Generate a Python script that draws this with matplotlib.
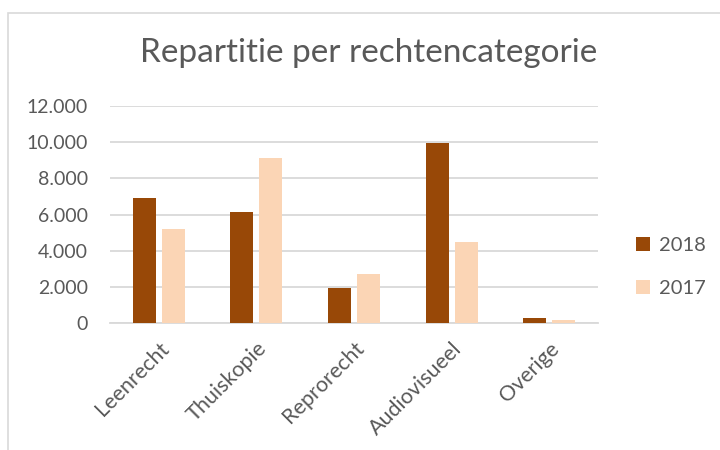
import matplotlib
matplotlib.use("Agg")
import matplotlib.pyplot as plt
from matplotlib.patches import Rectangle
import numpy as np

categories = ["Leenrecht", "Thuiskopie", "Reprorecht", "Audiovisueel", "Overige"]
series_names = ["2018", "2017"]
values_2018 = [6900, 6150, 1950, 9950, 260]
values_2017 = [5200, 9100, 2700, 4480, 150]
yticks = [0, 2000, 4000, 6000, 8000, 10000, 12000]
ytick_labels = ["0", "2.000", "4.000", "6.000", "8.000", "10.000", "12.000"]

col_2018 = "#984807"
col_2017 = "#FBD5B5"
text_col = "#595959"
grid_col = "#D9D9D9"

plt.rcParams['font.family'] = ['Lato', 'DejaVu Sans']

fig = plt.figure(figsize=(7.2, 4.5), dpi=100)
fig.patch.set_facecolor("white")

# chart border (partially visible frame)
W, H = 720, 450
fig.patches.append(Rectangle((7.5 / W, -0.1), 1.2, (H - 12.5) / H + 0.1,
                             transform=fig.transFigure, fill=False,
                             edgecolor="#D9D9D9", linewidth=1.2))

ax = fig.add_axes([110 / W, 1 - 323 / H, (598 - 110) / W, (323 - 106) / H])
x = np.arange(len(categories))
bw = 0.236
off = 0.148
ax.bar(x - off, values_2018, bw, color=col_2018, label=series_names[0], zorder=3)
ax.bar(x + off, values_2017, bw, color=col_2017, label=series_names[1], zorder=3)

ax.set_xlim(-0.5, len(categories) - 0.5)
ax.set_ylim(0, 12000)
ax.set_yticks(yticks)
ax.set_yticklabels(ytick_labels)
ax.yaxis.grid(True, color=grid_col, linewidth=1.3, zorder=0)
ax.set_axisbelow(True)
for s in ["top", "right", "left"]:
    ax.spines[s].set_visible(False)
ax.spines["bottom"].set_color(grid_col)
ax.spines["bottom"].set_linewidth(1.3)
ax.tick_params(axis="y", length=0, pad=16, labelsize=14, labelcolor=text_col)
ax.tick_params(axis="x", length=0, pad=11, labelsize=15.5, labelcolor=text_col)
ax.set_xticks(x)
ax.set_xticklabels(categories, rotation=45, ha="right", rotation_mode="anchor")

fig.text(369 / W, 1 - 53 / H, "Repartitie per rechtencategorie", ha="center", va="center",
         fontsize=24, color=text_col)

leg = fig.legend(loc="center left", bbox_to_anchor=(618 / W, 1 - 267 / H), frameon=False,
                 fontsize=14.5, labelcolor=text_col, handlelength=0.7, handleheight=0.7,
                 handletextpad=0.45, labelspacing=1.25)

fig.savefig("out.png", dpi=100)
